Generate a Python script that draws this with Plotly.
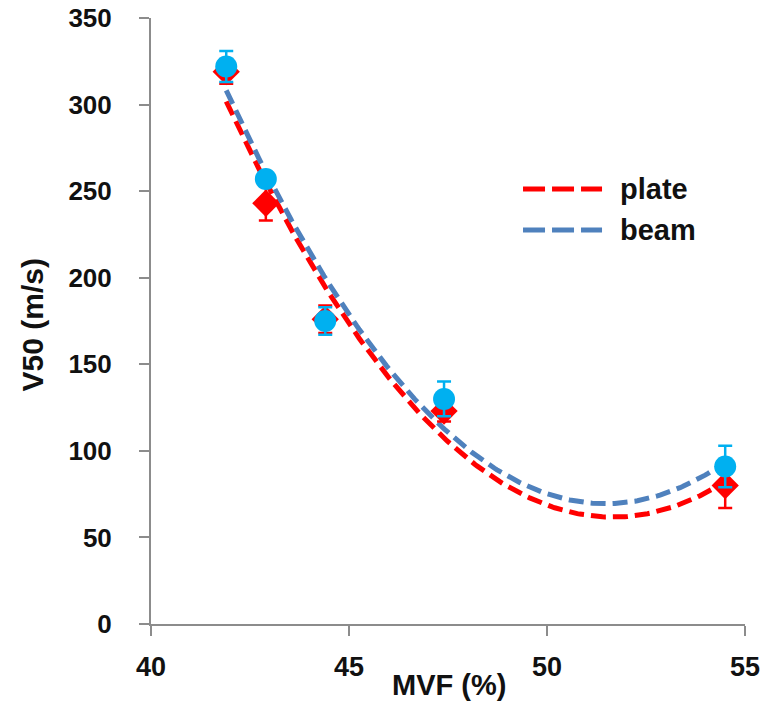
import numpy as np
import plotly.graph_objects as go

# Measured ballistic limit vs. matrix volume fraction
mvf = [41.9, 42.9, 44.4, 47.4, 54.5]
v50_plate = [319, 243, 176, 123, 80]
err_plate = [7, 10, 8, 6, 13]
v50_beam = [322, 257, 175, 130, 91]
err_beam = [9, 4, 8, 10, 12]

series_names = ["plate", "beam"]
x_ticks = [40, 45, 50, 55]
y_ticks = [0, 50, 100, 150, 200, 250, 300, 350]

RED = "#FF0000"
CYAN = "#00B0F0"
STEEL = "#4F81BD"
AXIS = "#8C8C8C"
FONT = "Liberation Sans, Arial, sans-serif"

# Second-order polynomial trendlines
xs = np.linspace(min(mvf), max(mvf), 200)
fit_plate = np.polyval(np.polyfit(mvf, v50_plate, 2), xs)
fit_beam = np.polyval(np.polyfit(mvf, v50_beam, 2), xs)

fig = go.Figure()

fig.add_trace(go.Scatter(
    x=xs, y=fit_plate, mode="lines", name=series_names[0],
    line=dict(color=RED, width=5, dash="15px,7px"), showlegend=False,
))
fig.add_trace(go.Scatter(
    x=xs, y=fit_beam, mode="lines", name=series_names[1],
    line=dict(color=STEEL, width=5, dash="15px,7px"), showlegend=False,
))
fig.add_trace(go.Scatter(
    x=mvf, y=v50_plate, mode="markers", showlegend=False,
    marker=dict(symbol="diamond", size=21, color=RED),
    error_y=dict(type="data", array=err_plate, color=RED, thickness=2.5, width=7),
))
fig.add_trace(go.Scatter(
    x=mvf, y=v50_beam, mode="markers", showlegend=False,
    marker=dict(symbol="circle", size=22, color=CYAN),
    error_y=dict(type="data", array=err_beam, color=CYAN, thickness=2.5, width=7),
))

# Legend drawn as dashed line samples with labels
legend_rows = [(0.7178, RED, series_names[0]), (0.6502, STEEL, series_names[1])]
for ypos, col, label in legend_rows:
    fig.add_shape(type="line", xref="paper", yref="paper",
                  x0=0.6263, x1=0.7593, y0=ypos, y1=ypos,
                  line=dict(color=col, width=5, dash="22px,7px"))
    fig.add_annotation(xref="paper", yref="paper", x=0.7862, y=ypos,
                       text=label, showarrow=False, xanchor="left", yanchor="middle",
                       font=dict(family=FONT, size=29, color="#111111", weight="bold"))

# Axis titles
fig.add_annotation(xref="x", yref="paper", x=47.52, y=-0.1007, text="MVF (%)",
                   showarrow=False, xanchor="center", yanchor="middle",
                   font=dict(family=FONT, size=29, color="#111111", weight="bold"))
fig.add_annotation(xref="paper", yref="paper", x=-0.2, y=0.493, text="V50 (m/s)",
                   textangle=-90, showarrow=False, xanchor="center", yanchor="middle",
                   font=dict(family=FONT, size=30, color="#111111", weight="bold"))

fig.update_xaxes(
    range=[40, 55], tickvals=x_ticks, showline=True, linecolor=AXIS, linewidth=2,
    ticks="outside", ticklen=10, tickwidth=2, tickcolor=AXIS, automargin=False,
    showgrid=False, zeroline=False, ticklabelstandoff=8, ticklabeloverflow="allow",
    tickfont=dict(family=FONT, size=27, color="#111111", weight="bold"),
)
fig.update_yaxes(
    range=[0, 350], tickvals=y_ticks, showline=True, linecolor=AXIS, linewidth=2,
    ticks="outside", ticklen=10, tickwidth=2, tickcolor=AXIS, automargin=False,
    showgrid=False, zeroline=False, ticklabelstandoff=22, ticklabeloverflow="allow",
    tickfont=dict(family=FONT, size=26, color="#111111", weight="bold"),
)

fig.update_layout(
    width=763, height=704,
    margin=dict(l=151, r=18, t=18, b=80),
    plot_bgcolor="white", paper_bgcolor="white",
    showlegend=False,
)

fig.write_html("out.html")
